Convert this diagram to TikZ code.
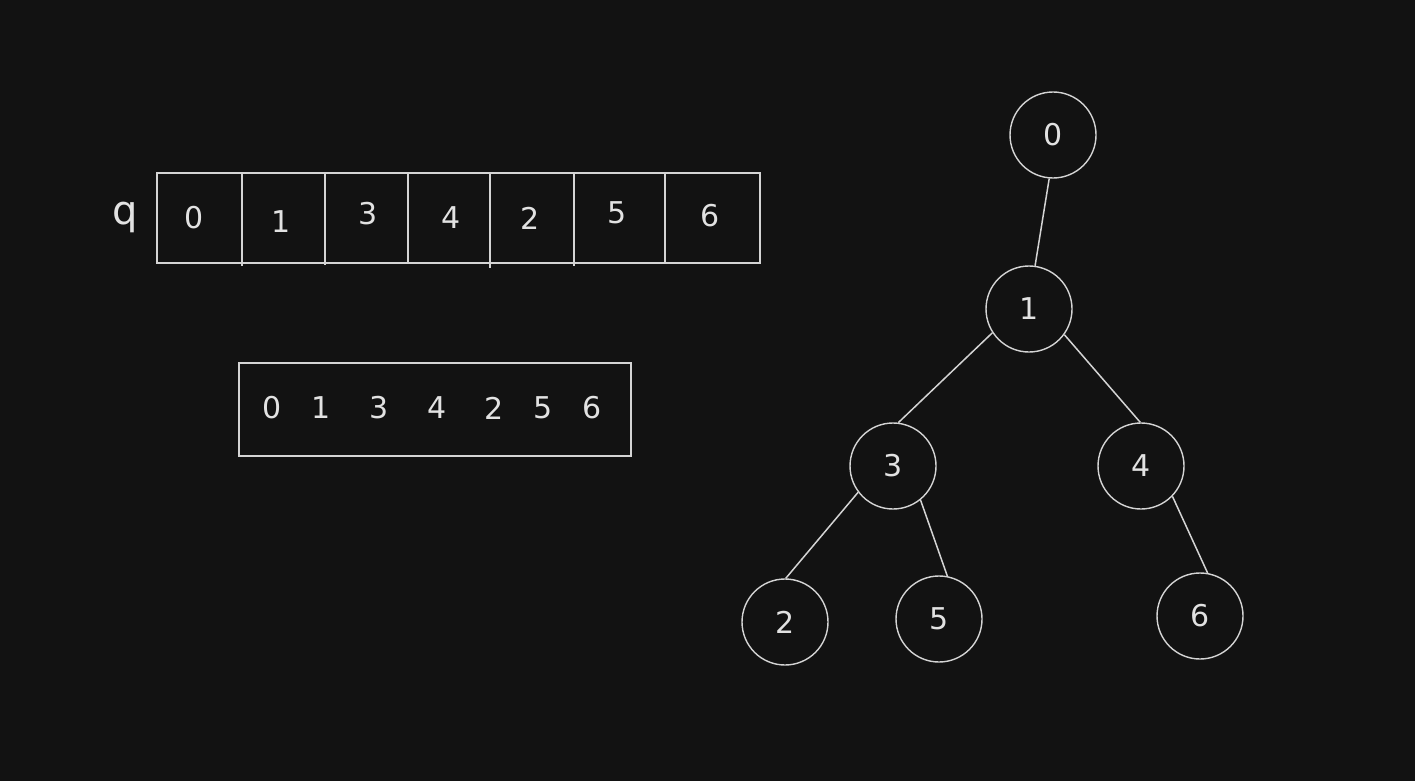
\documentclass[tikz,border=0pt]{standalone}
\usepackage{fontspec}
\setmainfont{DejaVu Sans}
\definecolor{bg}{HTML}{121212}
\definecolor{ink}{HTML}{D4D4D4}
\definecolor{txt}{HTML}{E2E2E2}
\tikzset{
  pen/.style={draw=ink, line width=1.4pt},
  digit/.style={text=txt, inner sep=0pt, font=\fontsize{30}{30}\selectfont},
  vertex/.style={pen, circle, minimum size=86pt, inner sep=0pt, text=txt, font=\fontsize{30}{30}\selectfont},
  edge/.style={draw=ink, line width=1.5pt}
}
\begin{document}
\begin{tikzpicture}[x=1pt,y=-1pt]
\fill[bg] (0,0) rectangle (1415,781);
\useasboundingbox (0,0) rectangle (1415,781);

% queue array q
\node[text=txt, inner sep=0pt, font=\fontsize{40}{40}\selectfont] (qlabel) at (125,217) {q};
\node[pen, rectangle, minimum width=603pt, minimum height=90pt, inner sep=0pt] (qbox) at (458.5,218) {};
\foreach \x/\y in {242/266,325/265,408/263,490/268,574/266,665/263}
  \draw[pen] (\x,173) -- (\x,\y);
\node[digit] (q0) at (194,218) {0};
\node[digit] (q1) at (281,222) {1};
\node[digit] (q2) at (368,214) {3};
\node[digit] (q3) at (451,218) {4};
\node[digit] (q4) at (530,218) {2};
\node[digit] (q5) at (617,213) {5};
\node[digit] (q6) at (710,216) {6};

% visiting order
\node[pen, rectangle, minimum width=392pt, minimum height=93pt, inner sep=0pt] (order) at (435,409.5) {};
\node[digit] (o0) at (272,408) {0};
\node[digit] (o1) at (321,408) {1};
\node[digit] (o2) at (379,408) {3};
\node[digit] (o3) at (437,408) {4};
\node[digit] (o4) at (494,408) {2};
\node[digit] (o5) at (543,408) {5};
\node[digit] (o6) at (592,408) {6};

% tree
\node[vertex] (n0) at (1053,135) {0};
\node[vertex] (n1) at (1029,309) {1};
\node[vertex] (n3) at (893,466) {3};
\node[vertex] (n4) at (1141,466) {4};
\node[vertex] (n2) at (785,622) {2};
\node[vertex] (n5) at (939,619) {5};
\node[vertex] (n6) at (1200,616) {6};

\draw[edge] (n0.-95) -- (n1.82);
\draw[edge] (n1.-147) -- (n3.83);
\draw[edge] (n1.-36) -- (n4.91);
\draw[edge] (n3.-143) -- (n2.89);
\draw[edge] (n3.-51) -- (n5.79);
\draw[edge] (n4.-44) -- (n6.80);
\end{tikzpicture}
\end{document}
